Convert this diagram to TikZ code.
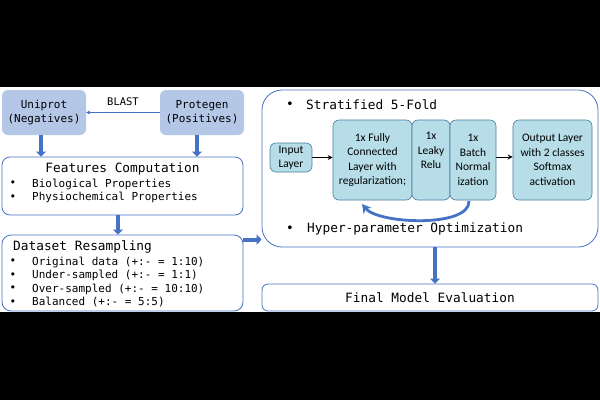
\documentclass[tikz,border=0pt]{standalone}
\usepackage{fontspec}
\setmonofont{DejaVu Sans Mono}
\newfontfamily\carl{Carlito}
\usetikzlibrary{arrows.meta,calc}
\definecolor{topfill}{RGB}{180,199,231}
\definecolor{arrowblue}{RGB}{68,114,196}
\definecolor{boxline}{RGB}{68,114,196}
\definecolor{nnfill}{RGB}{183,222,232}
\definecolor{nnline}{RGB}{70,125,160}
\tikzset{
  topbox/.style={fill=topfill, rounded corners=6pt, minimum width=84pt, minimum height=45pt, align=center, font=\ttfamily\fontsize{11}{14}\selectfont, inner sep=0pt},
  whitebox/.style={draw=boxline, fill=white, line width=0.8pt, inner sep=0pt},
  nnbox/.style={draw=nnline, fill=nnfill, line width=0.6pt, rounded corners=6pt, align=center, font=\carl\fontsize{11.5}{14.5}\selectfont, inner sep=0pt, minimum height=80pt},
  fat/.style={draw=arrowblue, line width=4pt, -{Triangle[length=5pt,width=10pt]}},
  thinarrow/.style={draw=arrowblue, line width=0.8pt, -{Stealth[length=4pt,width=4pt]}},
  blackarrow/.style={draw=black, line width=0.8pt, -{Stealth[length=5pt,width=5pt]}},
  bigtxt/.style={font=\ttfamily\fontsize{12.8}{15}\selectfont, inner sep=0pt},
  smalltxt/.style={font=\ttfamily\fontsize{11}{13}\selectfont, inner sep=0pt},
}
\begin{document}
\begin{tikzpicture}[x=1pt,y=-1pt]
\fill[black] (0,0) rectangle (600,400);
\fill[white] (0,87) rectangle (600,312);
\useasboundingbox (0,0) rectangle (600,400);

% top boxes
\node[topbox] (uni) at (44,112.5) {Uniprot\\(Negatives)};
\node[topbox] (pro) at (202,112.5) {Protegen\\(Positives)};
\draw[thinarrow] (pro.west) -- (uni.east);
\node[font=\ttfamily\fontsize{10.5}{12}\selectfont, inner sep=0pt] (blast) at (123,102) {BLAST};

% features box
\node[whitebox, rounded corners=8pt, minimum width=241pt, minimum height=58pt] (feat) at (122.5,186) {};
\node[bigtxt] (ft) at (122.5,169) {Features Computation};
\node[smalltxt] (fb1) at (13,184) {•};
\node[smalltxt, anchor=west] (f1) at (32,184) {Biological Properties};
\node[smalltxt] (fb2) at (13,197.5) {•};
\node[smalltxt, anchor=west] (f2) at (32,197.5) {Physiochemical Properties};

\draw[fat] (uni.south -| 41,0) -- (feat.north -| 41,0);
\draw[fat] (pro.south -| 197,0) -- (feat.north -| 197,0);

% dataset box
\node[whitebox, rounded corners=9pt, minimum width=241pt, minimum height=76pt] (ds) at (122.5,273) {};
\node[bigtxt, anchor=west] (dt) at (13,247) {Dataset Resampling};
\foreach \i/\t in {1/{Original data (+:- = 1:10)},2/{Under-sampled (+:- = 1:1)},3/{Over-sampled (+:- = 10:10)},4/{Balanced (+:- = 5:5)}}{
  \node[smalltxt] (db\i) at (13,{248.5+13.5*\i}) {•};
  \node[smalltxt, anchor=west] (d\i) at (32,{248.5+13.5*\i}) {\t};
}
\draw[fat] (feat.south -| 118,0) -- (ds.north -| 118,0);

% big box
\node[whitebox, rounded corners=20pt, minimum width=336pt, minimum height=157pt] (big) at (430,168.5) {};
\node[bigtxt] (sb) at (290,105) {•};
\node[bigtxt, anchor=west] (st) at (306,105) {Stratified 5-Fold};
\node[bigtxt] (hb) at (290,229) {•};
\node[bigtxt, anchor=west] (ht) at (307,229) {Hyper-parameter Optimization};

\draw[fat] ([yshift=-5pt]ds.north east) -- ([yshift=-5pt]ds.north east -| big.west);

% NN boxes
\node[nnbox, minimum width=42pt, minimum height=29pt] (inp) at (291,157.5) {Input\\Layer};
\node[nnbox, minimum width=79pt] (fc) at (372.5,160) {1x Fully\\Connected\\Layer with\\regularization;};
\node[nnbox, minimum width=38pt] (lk) at (431,160) {1x\\Leaky\\Relu\\[4pt]};
\node[nnbox, minimum width=46pt] (bn) at (473,160) {1x\\Batch\\Normal\\ization};
\node[nnbox, minimum width=79pt] (out) at (552.5,160) {Output Layer\\with 2 classes\\Softmax\\activation};

\draw[blackarrow] (inp.east) -- (inp.east -| fc.west);
\draw[blackarrow] (bn.east |- 0,157) -- (out.west |- 0,157);

\coordinate (cs) at (469,201);
\coordinate (ce) at (362,204);
\draw[draw=arrowblue, line width=2.8pt, -{Stealth[length=9pt,width=10pt]}] (cs) .. controls (470,228) and (378,224) .. (ce);

% final box
\node[whitebox, rounded corners=6pt, minimum width=336pt, minimum height=27pt] (fin) at (430,297.5) {};
\node[bigtxt] (fint) at (430,297.5) {Final Model Evaluation};
\draw[fat] (big.south -| 435,0) -- (fin.north -| 435,0);
\end{tikzpicture}
\end{document}
